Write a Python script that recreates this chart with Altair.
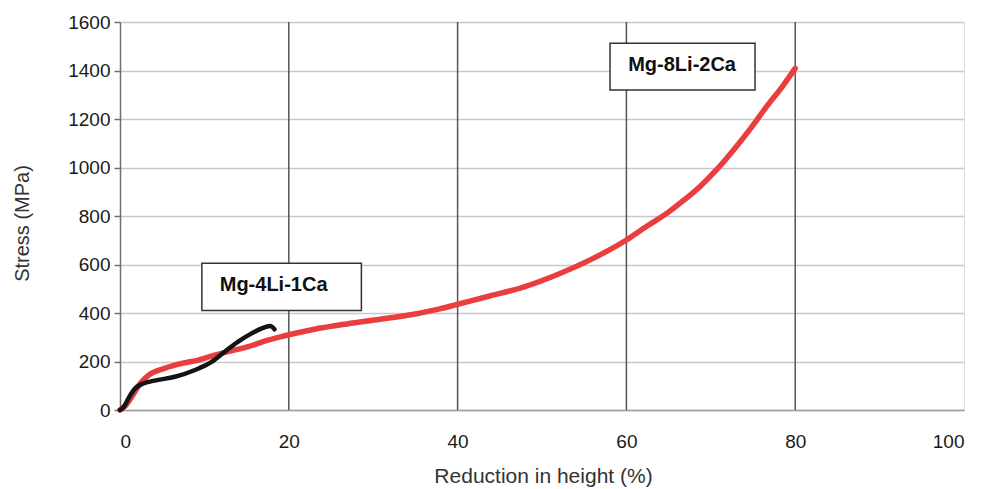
import altair as alt
import pandas as pd

# Mg-8Li-2Ca (red)
red_x = [0, 0.7, 1.4, 2.4, 3.4, 5.3, 7.3, 9.3, 11.3, 13.2, 15.2, 17.3, 19.5, 22.9, 26.9, 30.8,
         34.8, 37.9, 39.9, 43.8, 47.8, 51.7, 55.7, 60, 62.5, 64.8, 66.8, 68.7, 70.8, 72.7, 74.7,
         76.6, 78.5, 80]
red_y = [0, 20, 55, 110, 144, 172, 192, 206, 227, 244, 261, 286, 306, 332, 355, 374,
         395, 417, 435, 470, 507, 557, 619, 701, 760, 811, 865, 921, 995, 1072, 1160,
         1251, 1335, 1409]

# Mg-4Li-1Ca (black)
blk_x = [0, 0.5, 1.0, 1.8, 2.6, 4.1, 6.5, 8.9, 10.9, 12.4, 14.0, 15.6, 16.8, 17.8, 18.3]
blk_y = [0, 15, 48, 89, 107, 121, 137, 165, 199, 240, 282, 316, 337, 346, 333]

x_ticks = [0, 20, 40, 60, 80, 100]
y_ticks = [0, 200, 400, 600, 800, 1000, 1200, 1400, 1600]
x_grid = [20, 40, 60, 80]

# annotation boxes
lab_text = ["Mg-4Li-1Ca", "Mg-8Li-2Ca"]
lab_x = [18.2, 66.6]
lab_y = [515, 1423]
box_x1 = [9.7, 58.06]
box_x2 = [28.6, 75.24]
box_y1 = [410, 1320]
box_y2 = [605, 1512]

df = pd.concat([
    pd.DataFrame({"x": red_x, "y": red_y, "s": "Mg-8Li-2Ca", "o": range(len(red_x))}),
    pd.DataFrame({"x": blk_x, "y": blk_y, "s": "Mg-4Li-1Ca", "o": range(len(blk_x))}),
])
grid_df = pd.DataFrame({"x": x_grid})
lab_df = pd.DataFrame({"t": lab_text, "x": lab_x, "y": lab_y,
                       "x1": box_x1, "x2": box_x2, "y1": box_y1, "y2": box_y2})

xs = alt.Scale(domain=[0, 100], nice=False)
ys = alt.Scale(domain=[0, 1600], nice=False)

x_axis = alt.Axis(values=x_ticks, grid=False, tickSize=0, labelPadding=22, format="d",
                  labelFontSize=19, labelColor="#1a1a1a", labelFont="Liberation Sans",
                  domainColor="#a0a0a0", domainWidth=1.5,
                  title="Reduction in height (%)", titleFontSize=21, titleFontWeight="normal",
                  titleFont="Liberation Sans", titleColor="#333333",
                  titleX=423, titleY=66, titleBaseline="middle", titleAlign="center")
y_axis = alt.Axis(values=y_ticks, grid=True, gridColor="#c8c8c8", gridWidth=1.5, format="d",
                  tickSize=6, tickColor="#707070", tickWidth=1.5, labelPadding=4,
                  labelFontSize=19, labelColor="#1a1a1a", labelFont="Liberation Sans",
                  domainColor="#707070", domainWidth=1.5,
                  title="Stress (MPa)", titleFontSize=20, titleFontWeight="normal",
                  titleFont="Liberation Sans", titleColor="#333333",
                  titleX=-98, titleY=201, titleAngle=-90, titleBaseline="middle",
                  titleAlign="center")

base = alt.Chart(df)

vgrid = alt.Chart(grid_df).mark_rule(color="#555555", strokeWidth=1.5).encode(
    x=alt.X("x:Q", scale=xs, axis=x_axis),
)

lines = base.mark_line(strokeCap="round", strokeJoin="round", interpolate="monotone").encode(
    x=alt.X("x:Q", scale=xs, axis=x_axis),
    y=alt.Y("y:Q", scale=ys, axis=y_axis),
    color=alt.Color("s:N", scale=alt.Scale(domain=["Mg-8Li-2Ca", "Mg-4Li-1Ca"],
                                           range=["#ea3d3d", "#141414"]), legend=None),
    strokeWidth=alt.StrokeWidth("s:N", scale=alt.Scale(domain=["Mg-8Li-2Ca", "Mg-4Li-1Ca"],
                                                       range=[5.5, 4.5]), legend=None),
    order="o:Q",
)

boxes = alt.Chart(lab_df).mark_rect(fill="white", stroke="#333333", strokeWidth=1.5).encode(
    x=alt.X("x1:Q", scale=xs), x2="x2:Q",
    y=alt.Y("y1:Q", scale=ys), y2="y2:Q",
)
texts = alt.Chart(lab_df).mark_text(font="Liberation Sans", fontSize=20, fontWeight="bold",
                                    color="#111111", align="center", baseline="middle").encode(
    x=alt.X("x:Q", scale=xs), y=alt.Y("y:Q", scale=ys), text="t:N",
)

chart = alt.layer(vgrid, lines, boxes, texts).properties(
    width=844, height=388,
    autosize=alt.AutoSizeParams(type="none"),
    padding={"left": 112, "top": 14, "right": 5, "bottom": 77},
).configure_view(stroke="#c8c8c8", strokeWidth=1.5).configure(background="white")

chart.save("out.html", embed_options={"renderer": "svg", "actions": False})
